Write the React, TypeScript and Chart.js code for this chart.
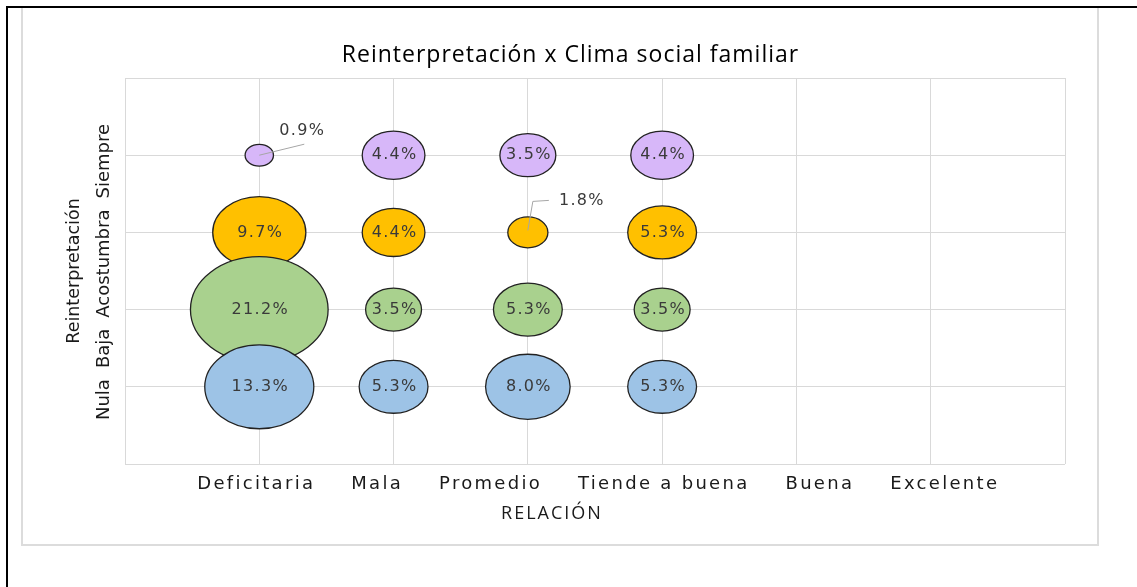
import React, { useEffect, useRef } from 'react';
import { Chart, registerables, BubbleController, PointElement } from 'chart.js';

// ---------- data ----------
const categories = ['Deficitaria', 'Mala', 'Promedio', 'Tiende a buena', 'Buena', 'Excelente'];
const levels = ['Nula', 'Baja', 'Acostumbra', 'Siempre'];
const nulaValues = [13.3, 5.3, 8.0, 5.3];
const bajaValues = [21.2, 3.5, 5.3, 3.5];
const acostumbraValues = [9.7, 4.4, 1.8, 5.3];
const siempreValues = [0.9, 4.4, 3.5, 4.4];
const chartTitle = 'Reinterpretación x Clima social familiar';
const xTitle = 'RELACIÓN';
const yTitle = 'Reinterpretación';

// ---------- styles ----------
const seriesStyles: Record<string, string> = {
  Nula: '#9DC3E6',
  Baja: '#A9D18E',
  Acostumbra: '#FFC000',
  Siempre: '#D7B7F9',
};
const BUBBLE_K = 11.5; // px of vertical radius per sqrt(percent)
const ASPECT = 1.3; // horizontal stretch of bubbles
// callout labels (offsets relative to bubble centre)
const callouts: Record<string, { dx: number; dy: number; path: number[][] }> = {
  'Siempre|Deficitaria': { dx: 43, dy: -24, path: [[0, 0], [45, -11]] },
  'Acostumbra|Promedio': { dx: 54, dy: -32, path: [[0, -2], [5, -31], [21, -32]] },
};

class EllipsePoint extends PointElement {
  static id = 'ellipsePoint';
  draw(ctx: CanvasRenderingContext2D) {
    const o: any = (this as any).options;
    const r = o.radius;
    if (!r || r < 0.1) return;
    const { x, y } = this as any;
    ctx.save();
    ctx.beginPath();
    ctx.ellipse(x, y, r * ASPECT, r, 0, 0, Math.PI * 2);
    ctx.fillStyle = o.backgroundColor;
    ctx.fill();
    if (o.borderWidth) {
      ctx.lineWidth = o.borderWidth;
      ctx.strokeStyle = o.borderColor;
      ctx.stroke();
    }
    ctx.restore();
  }
}

class EllipseBubbleController extends BubbleController {
  static id = 'ellipseBubble';
  static defaults = { ...(BubbleController as any).defaults, dataElementType: 'ellipsePoint' };
}

Chart.register(...registerables, EllipsePoint as any, EllipseBubbleController as any);

const valueMap: Record<string, number[]> = {
  Nula: nulaValues,
  Baja: bajaValues,
  Acostumbra: acostumbraValues,
  Siempre: siempreValues,
};

const labelPlugin = {
  id: 'bubbleLabels',
  afterDatasetsDraw(chart: any) {
    const { ctx } = chart;
    ctx.save();
    ctx.font = '16px "DejaVu Sans"';
    (ctx as any).letterSpacing = '1.3px';
    ctx.fillStyle = '#3a3a3a';
    ctx.textBaseline = 'middle';
    chart.data.datasets.forEach((ds: any, di: number) => {
      const meta = chart.getDatasetMeta(di);
      meta.data.forEach((el: any, i: number) => {
        const raw = ds.data[i];
        const key = ds.label + '|' + categories[raw.x - 1];
        const text = raw.v.toFixed(1) + '%';
        const c = callouts[key];
        if (c) {
          ctx.save();
          ctx.strokeStyle = '#a6a6a6';
          ctx.lineWidth = 1;
          ctx.beginPath();
          c.path.forEach((p, k) => {
            if (k === 0) ctx.moveTo(el.x + p[0], el.y + p[1]);
            else ctx.lineTo(el.x + p[0], el.y + p[1]);
          });
          ctx.stroke();
          ctx.restore();
          ctx.textAlign = 'center';
          ctx.fillText(text, el.x + c.dx, el.y + c.dy);
        } else {
          ctx.textAlign = 'center';
          ctx.fillText(text, el.x + 1, el.y);
        }
      });
    });
    ctx.restore();
  },
};

const textPlugin = {
  id: 'axisTexts',
  afterDraw(chart: any) {
    const { ctx, chartArea: a, scales } = chart;
    const xs = scales.x;
    ctx.save();
    // chart title
    ctx.font = '23px "Open Sans"';
    (ctx as any).letterSpacing = '1px';
    ctx.fillStyle = '#000000';
    ctx.textAlign = 'center';
    ctx.textBaseline = 'alphabetic';
    ctx.fillText(chartTitle, chart.width / 2 + 2, a.top - 16);

    // x category labels (text-box style run)
    ctx.font = '18px "DejaVu Sans"';
    (ctx as any).letterSpacing = '2.3px';
    ctx.fillStyle = '#1a1a1a';
    ctx.textAlign = 'left';
    let x = xs.getPixelForValue(1) - 62;
    const gapX = 36;
    categories.forEach((c) => {
      ctx.fillText(c, x, a.bottom + 25);
      x += ctx.measureText(c).width + gapX;
    });

    // x title
    ctx.font = '18px "Open Sans"';
    (ctx as any).letterSpacing = '2px';
    ctx.textAlign = 'center';
    ctx.fillText(xTitle, 552, a.bottom + 55);

    // y level labels (rotated run)
    ctx.save();
    ctx.translate(104, a.bottom - 44);
    ctx.rotate(-Math.PI / 2);
    ctx.font = '18px "DejaVu Sans"';
    (ctx as any).letterSpacing = '0px';
    ctx.textAlign = 'left';
    ctx.textBaseline = 'middle';
    let yy = 0;
    levels.forEach((l) => {
      ctx.fillText(l, yy, 0);
      yy += ctx.measureText(l).width + 11;
    });
    ctx.restore();

    // y title
    ctx.save();
    ctx.translate(74, (a.top + a.bottom) / 2);
    ctx.rotate(-Math.PI / 2);
    ctx.font = '17.5px "DejaVu Sans"';
    (ctx as any).letterSpacing = '0px';
    ctx.textAlign = 'center';
    ctx.textBaseline = 'middle';
    ctx.fillText(yTitle, 0, 0);
    ctx.restore();

    ctx.restore();
  },
};

export default function App() {
  const ref = useRef<HTMLCanvasElement | null>(null);
  useEffect(() => {
    if (!ref.current) return;
    const order = ['Nula', 'Baja', 'Acostumbra', 'Siempre'];
    const datasets = order.map((lvl) => ({
      label: lvl,
      data: valueMap[lvl].map((v, i) => ({ x: i + 1, y: levels.indexOf(lvl) + 1, v })),
      backgroundColor: seriesStyles[lvl],
      borderColor: '#222222',
      borderWidth: 1.3,
      radius: (c: any) => (c.raw ? Math.sqrt(c.raw.v) * BUBBLE_K : 0),
    }));
    const chart = new Chart(ref.current, {
      type: 'ellipseBubble' as any,
      data: { datasets } as any,
      options: {
        animation: false,
        responsive: false,
        layout: { padding: { left: 125, top: 78, right: 72, bottom: 123 } },
        scales: {
          x: {
            type: 'linear',
            min: 0,
            max: 7,
            ticks: { display: false, stepSize: 1 },
            grid: { color: '#d9d9d9', drawTicks: false, lineWidth: 1 },
            border: { display: false },
            afterFit: (s: any) => { s.height = 0; },
          },
          y: {
            type: 'linear',
            min: 0,
            max: 5,
            ticks: { display: false, stepSize: 1 },
            grid: { color: '#d9d9d9', drawTicks: false, lineWidth: 1 },
            border: { display: false },
            afterFit: (s: any) => { s.width = 0; },
          },
        },
        plugins: {
          legend: { display: false },
          tooltip: { enabled: false },
          title: { display: false },
        },
      } as any,
      plugins: [labelPlugin, textPlugin],
    });
    return () => chart.destroy();
  }, []);

  return (
    <div style={{ position: 'absolute', left: 0, top: 0, width: 1137, height: 587, background: '#ffffff', overflow: 'hidden' }}>
      <div style={{ position: 'absolute', left: 21, top: 8, width: 1074, height: 536, borderLeft: '2px solid #dcdcdc', borderRight: '2px solid #dcdcdc', borderBottom: '2px solid #dcdcdc' }} />
      <canvas ref={ref} width={1137} height={587} style={{ position: 'absolute', left: 0, top: 0, width: 1137, height: 587 }} />
      <div style={{ position: 'absolute', left: 6, top: 6, width: 1131, height: 581, borderTop: '2px solid #000', borderLeft: '2px solid #000', boxSizing: 'border-box' }} />
    </div>
  );
}
